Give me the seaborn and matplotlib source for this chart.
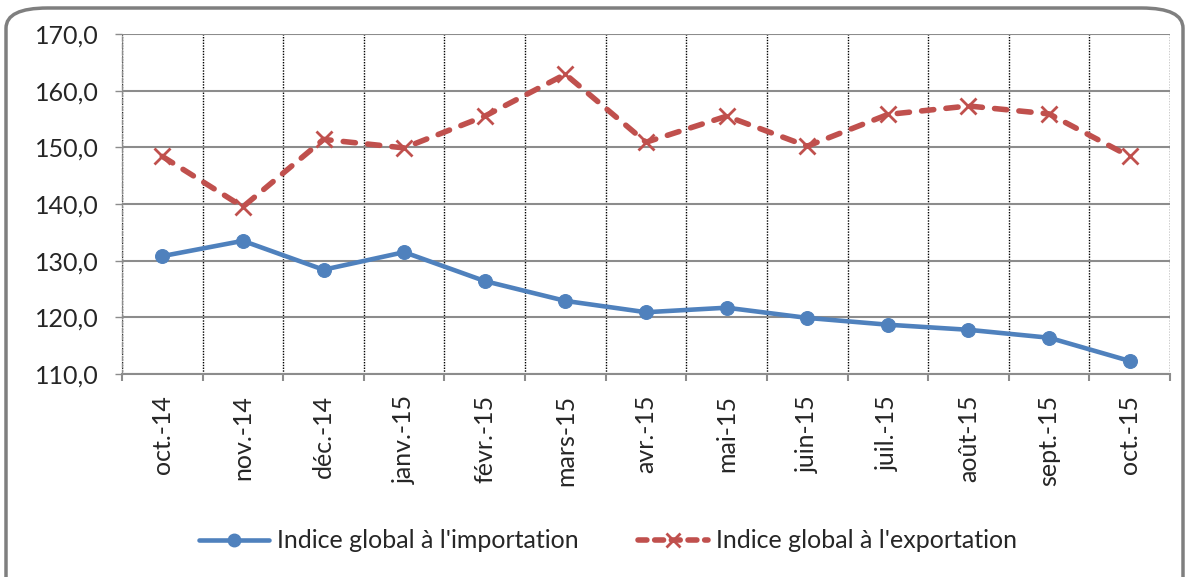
import numpy as np
import pandas as pd
import matplotlib
matplotlib.use("Agg")
import matplotlib.pyplot as plt
from matplotlib.patches import FancyBboxPatch
from matplotlib.lines import Line2D
import seaborn as sns

categories = ["oct.-14", "nov.-14", "déc.-14", "janv.-15", "févr.-15", "mars-15", "avr.-15",
              "mai-15", "juin-15", "juil.-15", "août-15", "sept.-15", "oct.-15"]
importation = [130.8, 133.5, 128.4, 131.5, 126.4, 122.9, 120.9, 121.7, 119.9, 118.7, 117.8, 116.4, 112.3]
exportation = [148.4, 139.5, 151.4, 149.9, 155.5, 162.9, 150.9, 155.5, 150.2, 155.8, 157.3, 155.9, 148.4]
yticks = [110, 120, 130, 140, 150, 160, 170]
label_imp = "Indice global à l'importation"
label_exp = "Indice global à l'exportation"

sns.set_theme(style="white")
plt.rcParams['font.family'] = ['Lato', 'DejaVu Sans']

W, H = 1187, 577
fig = plt.figure(figsize=(W / 100, H / 100), dpi=100)
ax = fig.add_axes([122 / W, 1 - 374 / H, (1170 - 122) / W, (374 - 34) / H])

df = pd.DataFrame({"pos": np.arange(len(categories)), "imp": importation, "exp": exportation})

blue = "#4F81BD"
red = "#C0504D"

sns.lineplot(data=df, x="pos", y="imp", ax=ax, color=blue, linewidth=3.3,
             marker="o", markersize=10, markeredgecolor=blue, sort=False, zorder=4)
sns.lineplot(data=df, x="pos", y="exp", ax=ax, color=red, linewidth=4,
             marker="x", markersize=11, markeredgewidth=2, markeredgecolor=red,
             sort=False, zorder=3)
ax.lines[-1].set_dashes([2.2, 2.2])
ax.lines[-1].set_dash_capstyle("round")

ax.set_xlim(-0.5, len(categories) - 0.5)
ax.set_ylim(110, 170)
ax.set_yticks(yticks)
ax.set_yticklabels([f"{v:.1f}".replace(".", ",") for v in yticks], fontsize=18)
ax.set_xticks(np.arange(len(categories)))
ax.set_xticklabels(categories, rotation=90, fontsize=18)
ax.set_xticks(np.arange(len(categories) + 1) - 0.5, minor=True)
ax.set_xlabel("")
ax.set_ylabel("")

ax.tick_params(axis="x", which="major", length=0, pad=15)
ax.tick_params(axis="x", which="minor", length=5, width=1.5, color="#8c8c8c", direction="out", bottom=True)
ax.tick_params(axis="y", length=5, width=1, color="#8c8c8c", direction="out", left=True, pad=12)

ax.yaxis.grid(True, color="#8c8c8c", linewidth=1.5)
ax.xaxis.grid(True, which="minor", color="black", linestyle=(0, (1, 1)), linewidth=1)
ax.xaxis.grid(False, which="major")
ax.set_axisbelow(True)

for s in ["top", "right"]:
    ax.spines[s].set_visible(False)
ax.spines["bottom"].set_color("#8c8c8c")
ax.spines["bottom"].set_linewidth(1.5)
ax.spines["left"].set_color("#8c8c8c")
ax.spines["left"].set_linewidth(1)
ax.spines["left"].set_linestyle((0, (3, 2)))

handles = [Line2D([], [], color=blue, linewidth=3.3, marker="o", markersize=9),
           Line2D([], [], color=red, linewidth=4, marker="x", markersize=10, markeredgewidth=2,
                  dashes=[1.6, 1.4], dash_capstyle="round")]
fig.legend(handles, [label_imp, label_exp], loc="center", bbox_to_anchor=(608 / W, 1 - 541 / H),
           ncol=2, frameon=False, fontsize=18, handlelength=2.8, handletextpad=0.3, columnspacing=2.4)

border = FancyBboxPatch((6 / W, -0.1), (1183 - 6) / W, 1.1 - 8 / H,
                        boxstyle="round,pad=0,rounding_size=0.035", transform=fig.transFigure,
                        facecolor="none", edgecolor="#7f7f7f", linewidth=2.5, clip_on=False)
fig.patches.append(border)

fig.savefig("out.png", dpi=100)
